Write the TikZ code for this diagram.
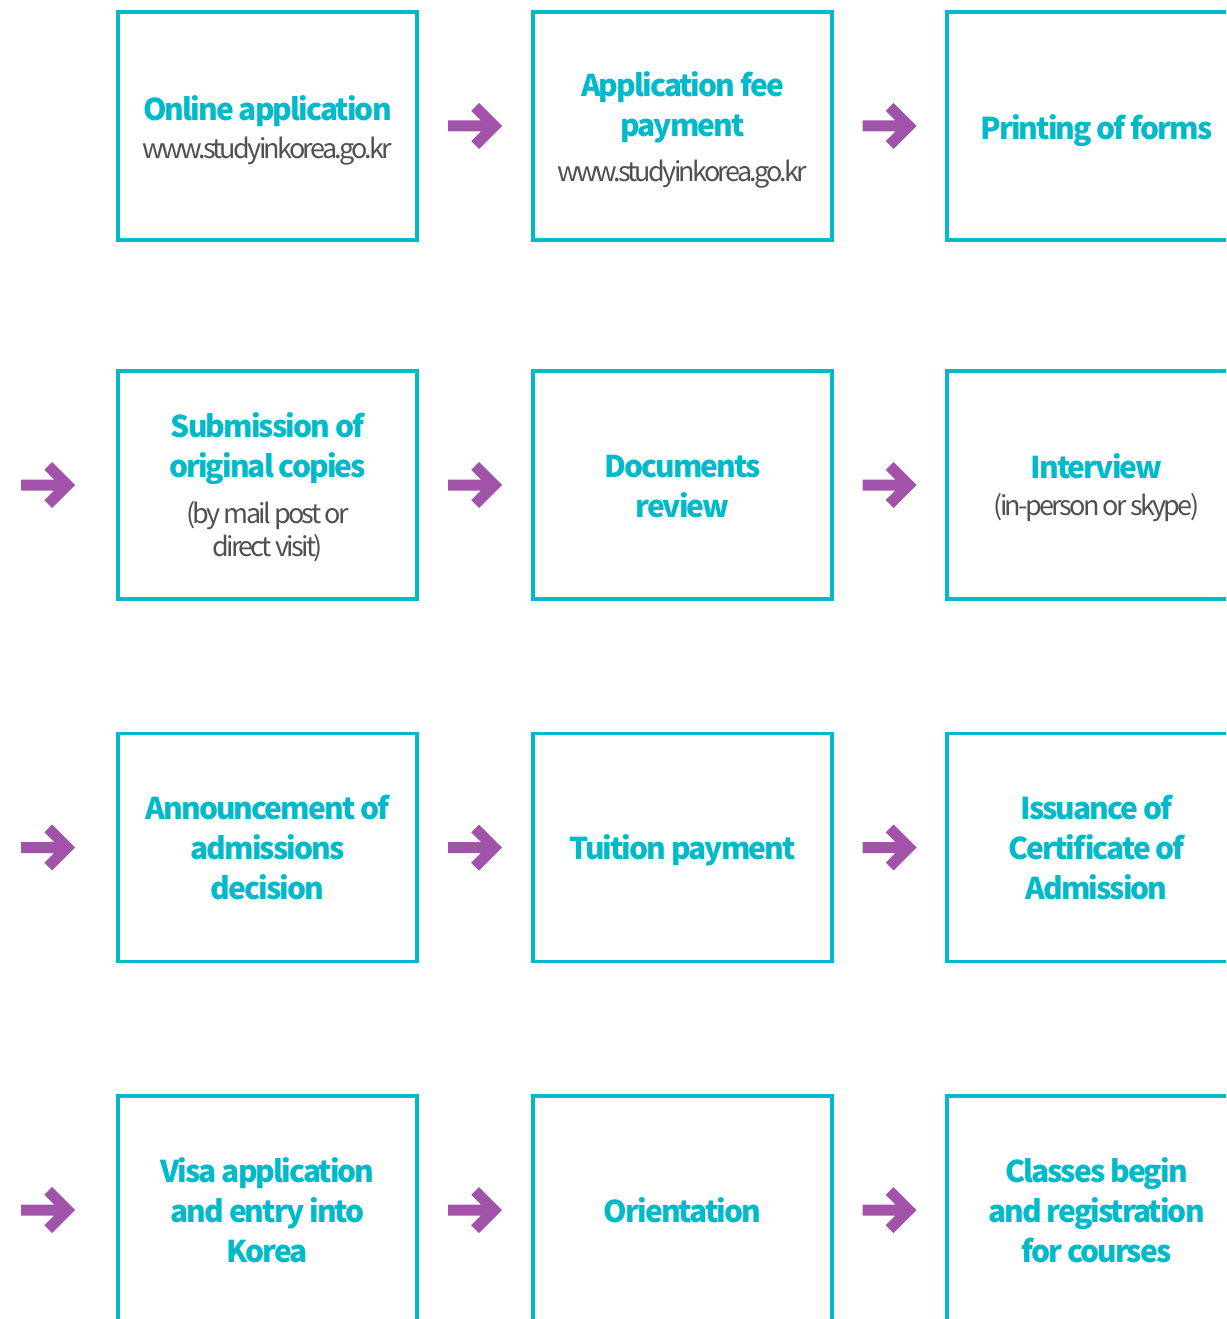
\documentclass[tikz,border=0pt]{standalone}
\usepackage{fontspec}
\setmainfont{Noto Sans CJK KR}
\newfontfamily\titlef[LetterSpace=-6.5]{Noto Sans CJK KR}
\newfontfamily\subf[LetterSpace=-10]{Noto Sans CJK KR}
\usetikzlibrary{calc}
\definecolor{teal1}{HTML}{00B9C9}
\definecolor{purp}{HTML}{A153A9}
\definecolor{subgray}{HTML}{505050}
\newcommand{\subt}{\subf\fontsize{27}{33}\selectfont\mdseries\color{subgray}}
\tikzset{
  stepbox/.style={draw=teal1, line width=3.5pt, minimum width=299pt, minimum height=228pt, inner sep=0pt},
  steptext/.style={inner sep=0pt, align=center, text=teal1, font=\titlef\fontsize{30}{40}\selectfont\bfseries},
  fatarrow/.pic={\fill[purp] (27,0) -- (4,23) -- (-3.8,15.2) -- (5.9,5.5) -- (-27,5.5)
    -- (-27,-5.5) -- (5.9,-5.5) -- (-3.8,-15.2) -- (4,-23) -- cycle;}
}
% #1 name, #2 centre, #3 downward shift of the text, #4 text
\newcommand{\stepnode}[4]{%
  \node[stepbox] (#1) at (#2) {};
  \node[steptext] (#1t) at ($(#1)+(0,#3)$) {#4};}
\begin{document}
\begin{tikzpicture}[x=1pt,y=-1pt]
\useasboundingbox (0,0) rectangle (1226,1319);
\clip (0,0) rectangle (1226,1319);
% row 1
\stepnode{a1}{267.5,126}{4}{Online application\\[-2pt]{\subt www.studyinkorea.go.kr}}
\stepnode{a2}{682.5,126}{3.5}{Application fee\\payment\\[5pt]{\subt www.studyinkorea.go.kr}}
\stepnode{a3}{1096.5,126}{5}{Printing of forms}
% row 2
\stepnode{b1}{267.5,485}{2}{Submission of\\original copies\\[6pt]{\subt (by mail post or}\\[-7pt]{\subt direct visit)}}
\stepnode{b2}{682.5,485}{1.5}{Documents\\review}
\stepnode{b3}{1096.5,485}{3}{Interview\\[-3pt]{\subt (in-person or skype)}}
% row 3
\stepnode{c1}{267.5,847.5}{0}{Announcement of\\admissions\\decision}
\stepnode{c2}{682.5,847.5}{3}{Tuition payment}
\stepnode{c3}{1096.5,847.5}{0}{Issuance of\\Certificate of\\Admission}
% row 4
\stepnode{d1}{267.5,1210}{0}{Visa application\\and entry into\\Korea}
\stepnode{d2}{682.5,1210}{0}{Orientation}
\stepnode{d3}{1096.5,1210}{0}{Classes begin\\and registration\\for courses}
% incoming ends
\coordinate (sb) at (-20,485);
\coordinate (sc) at (-20,847.5);
\coordinate (sd) at (-20,1210);
% connectors
\path (a1.east) -- pic[pos=0.5]{fatarrow} (a2.west);
\path (a2.east) -- pic[pos=0.5]{fatarrow} (a3.west);
\path (sb) -- pic[pos=0.5]{fatarrow} (b1.west);
\path (b1.east) -- pic[pos=0.5]{fatarrow} (b2.west);
\path (b2.east) -- pic[pos=0.5]{fatarrow} (b3.west);
\path (sc) -- pic[pos=0.5]{fatarrow} (c1.west);
\path (c1.east) -- pic[pos=0.5]{fatarrow} (c2.west);
\path (c2.east) -- pic[pos=0.5]{fatarrow} (c3.west);
\path (sd) -- pic[pos=0.5]{fatarrow} (d1.west);
\path (d1.east) -- pic[pos=0.5]{fatarrow} (d2.west);
\path (d2.east) -- pic[pos=0.5]{fatarrow} (d3.west);
\end{tikzpicture}
\end{document}
